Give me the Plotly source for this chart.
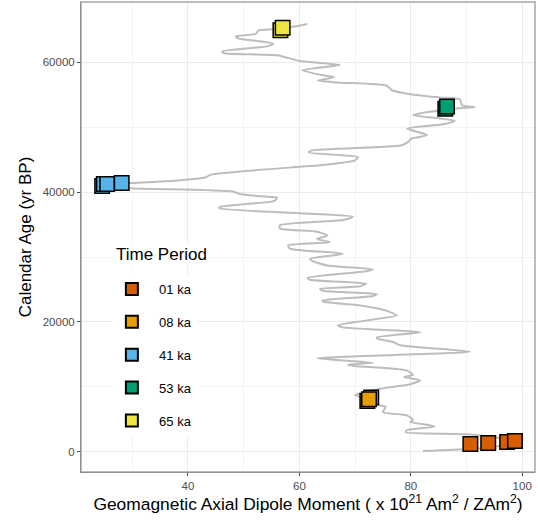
import plotly.graph_objects as go

# ---- Data ----
# Axial dipole moment curve (x = dipole moment, y = calendar age)
curve_dm = [61.4, 59.7, 57.1, 55.3, 52.6, 52.2, 48.6, 49.0, 55.3, 54.4, 46.1, 46.5, 56.0, 60.1,
            67.3, 60.5, 64.2, 66.2, 63.3, 66.6, 75.7, 76.6, 79.9, 85.2, 88.8, 89.2, 91.5, 88.3,
            80.4, 87.9, 86.1, 79.3, 82.9, 80.0, 79.5, 78.2, 62.1, 61.7, 70.5, 70.0, 63.3, 60.1,
            44.1, 43.2, 38.2, 29.6, 24.9, 29.6, 48.1, 49.3, 54.7, 56.0, 55.6, 54.7, 45.7, 45.6,
            69.6, 67.8, 56.5, 56.5, 63.2, 65.0, 63.2, 65.5, 58.0, 58.3, 67.8, 61.9, 62.3, 65.0,
            73.2, 72.0, 61.5, 61.9, 72.0, 70.9, 63.7, 64.2, 73.9, 73.2, 64.1, 64.4, 70.3, 75.4,
            76.3, 77.5, 66.9, 67.6, 74.5, 81.7, 73.9, 74.1, 76.8, 78.1, 90.6, 63.2, 73.2, 68.7,
            70.0, 79.3, 80.4, 78.8, 81.7, 79.9, 74.5, 70.9, 70.0, 73.0, 74.1, 75.5, 75.0, 79.3,
            80.4, 79.9, 84.3, 79.3, 79.1, 90.1, 96.6, 97.8, 96.0, 90.6, 82.2]
curve_age = [65900, 65600, 65300, 65100, 64900, 64400, 64000, 63700, 62900, 62500, 61700, 61400,
             61100, 60200, 59600, 58800, 58000, 57700, 57200, 56900, 56400, 55700, 55100, 54600,
             54300, 53400, 53100, 52900, 51900, 51000, 50500, 49800, 48800, 48200, 47700, 47200,
             46400, 46100, 45400, 44900, 44100, 43900, 42700, 42300, 41800, 41400, 41000, 40600,
             40100, 39700, 39250, 39150, 38700, 38500, 37700, 37500, 36200, 35700, 34900, 34400,
             33900, 33300, 32800, 32300, 31800, 31300, 30500, 29700, 29400, 28700, 28100, 27800,
             26800, 26500, 25900, 25500, 25100, 24800, 24300, 24000, 23300, 23100, 22600, 21800,
             21500, 21000, 19500, 19200, 18800, 18400, 17600, 17400, 16900, 16400, 15400, 14400,
             13700, 13400, 13200, 12500, 11800, 11500, 11000, 10400, 9700, 9000, 8700, 8000,
             7200, 6900, 6100, 5600, 4900, 4600, 3900, 3300, 3000, 2700, 2000, 1500, 900, 400, 100]

# Time-period samples
periods = ["01 ka", "08 ka", "41 ka", "53 ka", "65 ka"]
period_colors = ["#D55E00", "#E69F00", "#56B4E9", "#009E73", "#F0E442"]
period_dm = [
    [90.7, 93.9, 97.3, 98.7],
    [72.9, 72.2, 72.5],
    [24.6, 24.9, 25.5, 28.1],
    [86.2, 86.5],
    [56.6, 57.0],
]
period_age = [
    [1200, 1350, 1500, 1650],
    [8350, 7800, 8100],
    [40950, 41250, 41250, 41400],
    [52850, 53200],
    [64950, 65350],
]

x_ticks = [40, 60, 80, 100]
y_ticks = [0, 20000, 40000, 60000]

# ---- Figure ----
fig = go.Figure()
fig.add_trace(go.Scatter(
    x=curve_dm, y=curve_age, mode="lines",
    line=dict(color="#BDBDBD", width=2, shape="spline", smoothing=0.6),
    showlegend=False, hoverinfo="skip"))

for name, col, xs, ys in zip(periods, period_colors, period_dm, period_age):
    fig.add_trace(go.Scatter(
        x=xs, y=ys, mode="markers", name="\u00a0\u00a0" + name, legendgroup=name,
        marker=dict(symbol="square", size=14.5, color=col,
                    line=dict(color="black", width=1.5))))

font_family = "Liberation Sans, Arial, sans-serif"
axis_common = dict(
    showgrid=True, gridcolor="#EBEBEB", gridwidth=1.1,
    zeroline=False, showline=True, linecolor="#4D4D4D", linewidth=1,
    ticks="outside", ticklen=3, tickcolor="#4D4D4D", tickwidth=1,
    tickfont=dict(size=11.5, color="#4D4D4D", family=font_family),
    automargin=False,
)

fig.update_xaxes(
    range=[20.8, 102.3], tickvals=x_ticks,
    minor=dict(dtick=10, tick0=0, showgrid=True, gridcolor="#F3F3F3", gridwidth=0.8, ticks=""),
    title=dict(text="Geomagnetic Axial Dipole Moment ( x 10<sup>21</sup> Am<sup>2</sup> / ZAm<sup>2</sup>)",
               font=dict(size=17.4, color="black", family=font_family), standoff=7),
    **axis_common)
fig.update_yaxes(
    range=[-3130, 69300], tickvals=y_ticks, tickformat="d",
    minor=dict(dtick=10000, tick0=0, showgrid=True, gridcolor="#F3F3F3", gridwidth=0.8, ticks=""),
    title=dict(text="Calendar Age (yr BP)", font=dict(size=17, color="black", family=font_family),
               standoff=6),
    **axis_common)

fig.add_shape(type="rect", xref="paper", yref="paper", x0=0, x1=1, y0=0, y1=1,
              line=dict(color="#A6A6A6", width=1.5), layer="above")

# legend title as annotation (gives control over spacing)
fig.add_annotation(text="Time Period", xref="paper", yref="paper",
                   x=0.0727, y=0.462, xanchor="left", yanchor="middle",
                   showarrow=False, bgcolor="white",
                   font=dict(size=17, color="black", family=font_family))

fig.update_layout(
    width=538, height=521,
    margin=dict(l=81, r=3, t=2, b=49),
    paper_bgcolor="white", plot_bgcolor="white",
    font=dict(family=font_family),
    legend=dict(
        font=dict(size=13, color="black", family=font_family),
        x=0.068, y=0.4214, xanchor="left", yanchor="top",
        bgcolor="white", borderwidth=0, tracegroupgap=13,
        traceorder="grouped", itemsizing="constant"),
)

fig.write_html("out.html", config={"displayModeBar": False},
               post_script="document.body.style.margin='0';")
